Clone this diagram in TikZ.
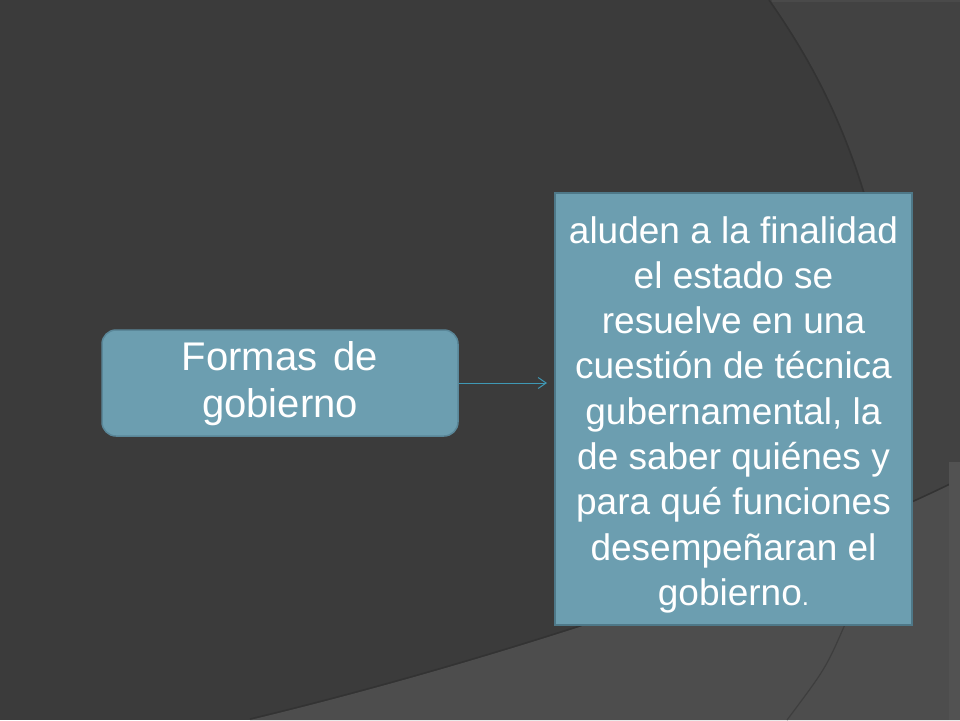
\documentclass[tikz,border=0pt]{standalone}
\usepackage{fontspec}
\setmainfont{Liberation Sans}
\usetikzlibrary{arrows.meta}
\definecolor{bgbase}{HTML}{3B3B3B}
\definecolor{bgright}{HTML}{424242}
\definecolor{bgbottom}{HTML}{4D4D4D}
\definecolor{bgstrip}{HTML}{525252}
\definecolor{bgshadow}{HTML}{333333}
\definecolor{bgedge}{HTML}{4A4A4A}
\definecolor{boxfill}{HTML}{6C9EB0}
\definecolor{boxline}{HTML}{5A8799}
\definecolor{boxlinedark}{HTML}{4E7888}
\definecolor{arrowcol}{HTML}{3F98B5}
\tikzset{
  bluebox/.style={fill=boxfill, draw=boxline, line width=1.5pt, inner sep=0pt},
  boxtext/.style={text=white, align=center, inner sep=0pt, anchor=north},
  link/.style={draw=arrowcol, line width=1pt, -{Straight Barb[length=8pt,width=11pt]}},
  shadowedge/.style={draw=bgshadow, line width=1.5pt},
}
\begin{document}
\begin{tikzpicture}[x=1pt,y=-1pt]
\useasboundingbox (0,0) rectangle (960,720);
% background
\fill[bgbase] (0,0) rectangle (960,720);
\fill[bgright] (770,0) .. controls (840,100) and (910,240) .. (910,560) -- (960,560) -- (960,0) -- cycle;
\draw[shadowedge] (769,0) .. controls (839,100) and (909,240) .. (909,560);
\draw[bgedge, line width=1.5pt] (772,0.8) -- (960,0.8);
\fill[bgbottom] (250,720) .. controls (500,660) and (800,560) .. (960,480) -- (960,720) -- cycle;
\draw[shadowedge] (250,719) .. controls (500,659) and (800,559) .. (960,479);
\fill[bgstrip] (949,462) rectangle (960,720);
\draw[bgbase!80!bgbottom, line width=1.2pt] (846,622) .. controls (826,668) .. (787,720);
% boxes
\node[bluebox, rounded corners=14pt, minimum width=356pt, minimum height=106pt] (fg) at (280,383) {};
\node[boxtext, font=\fontsize{40}{46.5}\selectfont] (fgt) at (280,341.4) {Formas\hspace{0.4em}de\\gobierno};
\node[bluebox, draw=boxlinedark, line width=2pt, minimum width=357pt, minimum height=432pt] (rb) at (733.5,409) {};
\node[boxtext, font=\fontsize{37}{45.3}\selectfont] (rbt) at (733.5,216) {aluden a la finalidad\\el estado se\\resuelve en una\\cuestión de técnica\\gubernamental, la\\de saber quiénes y\\para qué funciones\\desempeñaran el\\gobierno{\fontsize{26}{26}\selectfont.}};
% connector
\draw[link, shorten >=7pt] (fg.east) -- (fg.east -| rb.west);
\end{tikzpicture}
\end{document}
